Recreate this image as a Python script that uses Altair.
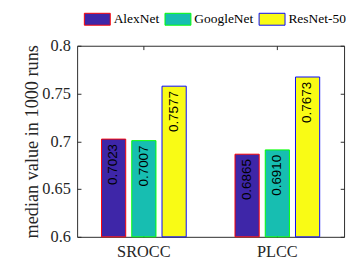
import altair as alt
import pandas as pd

metrics = ["SROCC", "PLCC"]
models = ["AlexNet", "GoogleNet", "ResNet-50"]
alexnet = [0.7023, 0.6865]
googlenet = [0.7007, 0.6910]
resnet = [0.7577, 0.7673]
fill_colors = ["#3E26A8", "#17BEB1", "#F9FB15"]
edge_colors = ["#FF0000", "#00FF00", "#0000FF"]
y_ticks = [0.6, 0.65, 0.7, 0.75, 0.8]

rows = []
for m, vals in zip(models, [alexnet, googlenet, resnet]):
    for metric, v in zip(metrics, vals):
        rows.append({"metric": metric, "model": m, "value": v, "label": f"{v:.4f}"})
df = pd.DataFrame(rows)

SERIF = "Liberation Serif"
AX = "#262626"

x_scale = alt.Scale(domain=metrics, paddingInner=0.32, paddingOuter=0.16)
y_scale = alt.Scale(domain=[0.6, 0.8], zero=False, nice=False)
off_scale = alt.Scale(domain=models, paddingInner=0.2, paddingOuter=0.1)

x_main = alt.X("metric:N", scale=x_scale, sort=metrics, title="",
               axis=alt.Axis(labelAngle=0, domain=False, ticks=True, tickSize=4, offset=-4,
                             tickColor=AX, labelPadding=8, labelFont=SERIF, labelFontSize=17,
                             labelColor=AX))
y_main = alt.Y("value:Q", scale=y_scale, title="median value in 1000 runs",
               axis=alt.Axis(values=y_ticks, format="~g", domain=False, grid=False,
                             tickSize=4, offset=-4, tickColor=AX, labelPadding=7,
                             labelFont=SERIF, labelFontSize=17, labelColor=AX,
                             titleFont=SERIF, titleFontSize=19, titleFontWeight="normal",
                             titleColor=AX, titlePadding=1))

legend = alt.Legend(orient="none", legendX=7, legendY=-42, direction="horizontal",
                    title="", symbolType="M-1,-0.46H1V0.46H-1Z", symbolSize=729,
                    symbolStrokeWidth=1, labelFont=SERIF, labelFontSize=14,
                    labelColor="black", labelOffset=3, columnPadding=3, padding=0,
                    symbolOpacity=1)

fill_enc = alt.Fill("model:N", scale=alt.Scale(domain=models, range=fill_colors),
                    sort=models, legend=legend)
stroke_enc = alt.Stroke("model:N", scale=alt.Scale(domain=models, range=edge_colors),
                        sort=models, legend=legend)

bars = alt.Chart(df).mark_bar(strokeWidth=1, opacity=1).encode(
    x=x_main,
    xOffset=alt.XOffset("model:N", scale=off_scale, sort=models),
    y=y_main,
    y2=alt.datum(0.6),
    fill=fill_enc,
    stroke=stroke_enc,
)

frame_axes = alt.Chart(df).mark_bar(opacity=0).encode(
    x=alt.X("metric:N", scale=x_scale, sort=metrics, title="",
            axis=alt.Axis(orient="top", labels=False, domain=False, tickSize=4, offset=-4,
                          tickColor=AX)),
    y=alt.Y("value:Q", scale=y_scale, title="",
            axis=alt.Axis(orient="right", values=y_ticks, labels=False, domain=False,
                          grid=False, tickSize=4, offset=-4, tickColor=AX)),
    y2=alt.datum(0.6),
)

labels = alt.Chart(df).mark_text(angle=270, align="right", baseline="middle", dx=-5,
                                 font="Liberation Sans", fontSize=14, color="black").encode(
    x=alt.X("metric:N", scale=x_scale, sort=metrics, axis=None),
    xOffset=alt.XOffset("model:N", scale=off_scale, sort=models),
    y=alt.Y("value:Q", scale=y_scale, axis=None),
    text="label:N",
)

chart = alt.layer(bars, frame_axes, labels).resolve_axis(
    x="independent", y="independent"
).properties(
    width=278, height=199,
    padding={"left": 15, "top": -8, "right": 0, "bottom": 0},
).configure_view(
    stroke=AX, strokeWidth=1
)

chart.save("out.html", embed_options={"renderer": "svg", "actions": False})
